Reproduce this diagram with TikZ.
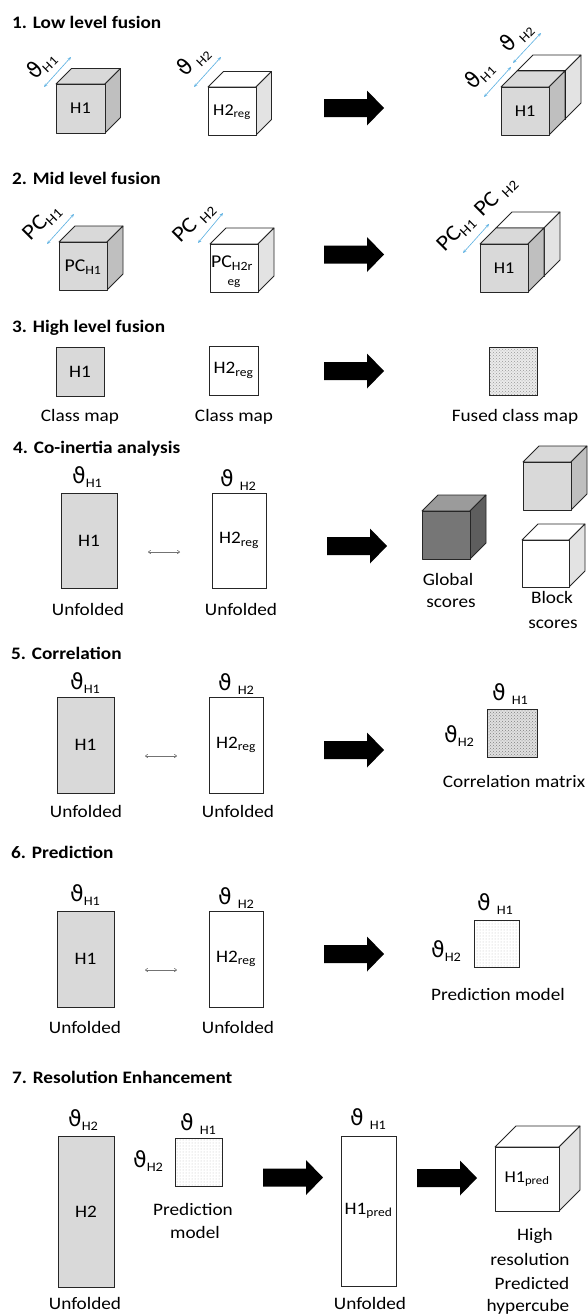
\documentclass[tikz,border=0pt]{standalone}
\usepackage{fontspec}
\setmainfont{Carlito}[FakeStretch=1.1]
\newfontfamily\djv{DejaVu Sans}
\usetikzlibrary{arrows.meta,patterns}
\definecolor{lg}{HTML}{D9D9D9}
\definecolor{mg}{HTML}{BFBFBF}
\definecolor{wg}{HTML}{E3E3E3}
\definecolor{dkf}{HTML}{767676}
\definecolor{dkt}{HTML}{9B9B9B}
\definecolor{dks}{HTML}{5E5E5E}
\definecolor{dimblue}{HTML}{5AB0E2}
\newcommand\lo[1]{\textsubscript{#1}}
\newcommand\thl[2][0pt]{{\djv\fontsize{22}{22}\selectfont ϑ}\hspace{#1}\raisebox{-4pt}{\fontsize{13}{13}\selectfont #2}}
\newcommand\pcl[2][0pt]{{\fontsize{22}{22}\selectfont PC}\hspace{#1}\raisebox{-4pt}{\fontsize{14}{14}\selectfont #2}}
\newcommand\mycube[7]{%
 \filldraw[cl, fill=#6] (#1,#2) -- ++(#4,-#4) -- ++(#3,0) -- ++(-#4,#4) -- cycle;
 \filldraw[cl, fill=#7] (#1+#3,#2) -- ++(#4,-#4) -- ++(0,#3) -- ++(-#4,#4) -- cycle;
 \filldraw[cl, fill=#5] (#1,#2) rectangle ++(#3,#3);}
\newcommand\bigarr[2]{%
 \fill[black] (#1,#2-9) -- (#1+43,#2-9) -- (#1+43,#2-17.5) -- (#1+60,#2) -- (#1+43,#2+17.5) -- (#1+43,#2+9) -- (#1,#2+9) -- cycle;}
\tikzset{
 cl/.style={draw=black!85, line width=0.8pt, line join=round},
 txt/.style={inner sep=0pt, font=\fontsize{17.5}{20}\selectfont},
 cubetxt/.style={inner sep=0pt, font=\fontsize{16.5}{18}\selectfont},
 ttl/.style={inner sep=0pt, anchor=base west, font=\fontsize{17.5}{20}\selectfont\bfseries},
 dimarr/.style={draw=dimblue, line width=0.6pt, {Stealth[length=3.5pt,width=3pt]}-{Stealth[length=3.5pt,width=3pt]}},
 smallarr/.style={draw=black!55, line width=0.6pt, {To[length=3pt,width=4pt]}-{To[length=3pt,width=4pt]}},
 box/.style={draw=black!85, line width=0.8pt, inner sep=0pt, font=\fontsize{17.5}{20}\selectfont},
}
\begin{document}
\begin{tikzpicture}[x=1pt,y=-1pt]
\useasboundingbox (0,0) rectangle (587,1314);
\fill[white] (0,0) rectangle (587,1314);

% ---------- 1. Low level fusion
\node[ttl] (t1) at (12,29) {1. Low level fusion};
\mycube{56}{84}{49}{15.5}{lg}{lg}{mg}
\node[cubetxt] (c1a) at (80.5,108.5) {H1};
\coordinate (d1a) at (44,87); \coordinate (d1b) at (71,57);
\draw[dimarr] (d1a) -- (d1b);
\node[txt, rotate=45] (l1a) at (41,65) {\thl{H1}};
\mycube{208}{87}{48}{15.5}{white}{white}{wg}
\node[cubetxt] (c1b) at (232,112) {H2\lo{reg}};
\coordinate (d1c) at (194,87); \coordinate (d1d) at (221,57);
\draw[dimarr] (d1c) -- (d1d);
\node[txt, rotate=45] (l1b) at (193,61) {\thl[5pt]{H2}};
\bigarr{324}{108}
\mycube{517}{71}{48}{16}{white}{white}{wg}
\draw[black, line width=1.6pt] (517,71) -- (565,71) -- (565,119);
\mycube{501}{87}{48}{16}{lg}{lg}{mg}
\node[cubetxt] (c1c) at (525,111) {H1};
\coordinate (d1e) at (484,97); \coordinate (d1f) at (511,67);
\draw[dimarr] (d1e) -- (d1f);
\coordinate (d1g) at (513,63); \coordinate (d1h) at (541,33);
\draw[dimarr] (d1g) -- (d1h);
\node[txt, rotate=45] (l1c) at (479,75) {\thl{H1}};
\node[txt, rotate=45] (l1d) at (516,37) {\thl[5pt]{H2}};

% ---------- 2. Mid level fusion
\node[ttl] (t2) at (12,184) {2. Mid level fusion};
\mycube{59}{242}{48}{16}{lg}{lg}{mg}
\node[cubetxt, font=\fontsize{18}{20}\selectfont] (c2a) at (83,267) {PC\lo{H1}};
\coordinate (d2a) at (47,244); \coordinate (d2b) at (74,214);
\draw[dimarr] (d2a) -- (d2b);
\node[txt, rotate=45] (l2a) at (42,223) {\pcl{H1}};
\mycube{210}{244}{48}{16}{white}{white}{wg}
\node[cubetxt, font=\fontsize{18}{20}\selectfont] (c2b) at (232,263) {PC\lo{H2r}};
\node[inner sep=0pt, font=\fontsize{12}{12}\selectfont] (c2c) at (234,284) {eg};
\coordinate (d2c) at (198,243); \coordinate (d2d) at (223,213);
\draw[dimarr] (d2c) -- (d2d);
\node[txt, rotate=45] (l2b) at (194,223) {\pcl[6pt]{H2}};
\bigarr{324}{254.5}
\mycube{496}{228}{48}{16}{white}{white}{wg}
\mycube{480}{244}{48}{16}{lg}{lg}{mg}
\node[cubetxt] (c2d) at (504,268) {H1};
\coordinate (d2e) at (463,253); \coordinate (d2f) at (489,224);
\draw[dimarr] (d2e) -- (d2f);
\node[txt, rotate=45] (l2c) at (456,234) {\pcl{H1}};
\node[txt, rotate=45] (l2d) at (496,197) {\pcl[6pt]{H2}};

% ---------- 3. High level fusion
\node[ttl] (t3) at (12,332) {3. High level fusion};
\node[box, fill=lg, minimum width=48pt, minimum height=49pt] (s3a) at (80,371.5) {H1};
\node[box, fill=white, minimum width=49pt, minimum height=49pt] (s3b) at (233.5,370.5) {H2\lo{reg}};
\bigarr{324}{371}
\node[box, preaction={fill=black!8}, pattern=crosshatch dots, pattern color=black!40, minimum width=48pt, minimum height=48pt] (s3c) at (513,371) {};
\node[txt, anchor=base] (cm1) at (80,421) {Class map};
\node[txt, anchor=base] (cm2) at (234,421) {Class map};
\node[txt, anchor=base] (cm3) at (515,421) {Fused class map};

% ---------- 4. Co-inertia analysis
\node[ttl] (t4) at (13,453) {4. Co-inertia analysis};
\node[txt, anchor=base west] (th4a) at (72,483) {\thl{H1}};
\node[txt, anchor=base west] (th4b) at (220,486) {\thl[6pt]{H2}};
\node[box, fill=lg, minimum width=56pt, minimum height=95pt] (r4a) at (89,540.5) {H1};
\node[box, fill=white, minimum width=54pt, minimum height=95pt] (r4b) at (239,540.5) {H2\lo{reg}};
\coordinate (a4a) at (148,552); \coordinate (a4b) at (180,552);
\draw[smallarr] (a4a) -- (a4b);
\node[txt, anchor=base] (u4a) at (88,615) {Unfolded};
\node[txt, anchor=base] (u4b) at (241,615) {Unfolded};
\bigarr{327}{546}
\mycube{422}{511}{48}{16}{dkf}{dkt}{dks}
\mycube{523}{462}{48}{16}{lg}{lg}{mg}
\mycube{522}{540}{47}{16}{white}{white}{wg}
\node[txt, anchor=base] (g4a) at (448,585) {Global};
\node[txt, anchor=base] (g4b) at (451,607) {scores};
\node[txt, anchor=base] (b4a) at (552,603) {Block};
\node[txt, anchor=base] (b4b) at (553,628) {scores};

% ---------- 5. Correlation
\node[ttl] (t5) at (11,659) {5. Correlation};
\node[txt, anchor=base west] (th5a) at (70,689) {\thl{H1}};
\node[txt, anchor=base west] (th5b) at (218,690) {\thl[6pt]{H2}};
\node[box, fill=lg, minimum width=57pt, minimum height=96pt] (r5a) at (85.5,745) {H1};
\node[box, fill=white, minimum width=54pt, minimum height=96pt] (r5b) at (236,745) {H2\lo{reg}};
\coordinate (a5a) at (145,756); \coordinate (a5b) at (177,756);
\draw[smallarr] (a5a) -- (a5b);
\node[txt, anchor=base] (u5a) at (86,817) {Unfolded};
\node[txt, anchor=base] (u5b) at (238,817) {Unfolded};
\bigarr{324}{750}
\node[box, preaction={fill=black!12}, pattern=crosshatch dots, pattern color=black!50, minimum width=50pt, minimum height=48pt] (s5) at (512,733) {};
\node[txt, anchor=base west] (th5c) at (492,700) {\thl[6pt]{H1}};
\node[txt, anchor=base west] (th5d) at (444,742) {\thl{H2}};
\node[txt, anchor=base] (cmx) at (514,787) {Correlation matrix};

% ---------- 6. Prediction
\node[ttl] (t6) at (11,858) {6. Prediction};
\node[txt, anchor=base west] (th6a) at (70,901) {\thl{H1}};
\node[txt, anchor=base west] (th6b) at (218,904) {\thl[6pt]{H2}};
\node[box, fill=lg, minimum width=57pt, minimum height=96pt] (r6a) at (85.5,959) {H1};
\node[box, fill=white, minimum width=54pt, minimum height=96pt] (r6b) at (236,959) {H2\lo{reg}};
\coordinate (a6a) at (145,970); \coordinate (a6b) at (177,970);
\draw[smallarr] (a6a) -- (a6b);
\node[txt, anchor=base] (u6a) at (85,1033) {Unfolded};
\node[txt, anchor=base] (u6b) at (238,1033) {Unfolded};
\bigarr{324}{954}
\node[box, pattern=dots, pattern color=black!25, minimum width=45pt, minimum height=47pt] (s6) at (496.5,943.5) {};
\node[txt, anchor=base west] (th6c) at (477,910) {\thl[6pt]{H1}};
\node[txt, anchor=base west] (th6d) at (431,957) {\thl{H2}};
\node[txt, anchor=base] (pm6) at (498,1000) {Prediction model};

% ---------- 7. Resolution Enhancement
\node[ttl] (t7) at (12,1083) {7. Resolution Enhancement};
\node[txt, anchor=base west] (th7a) at (68,1126) {\thl{H2}};
\node[box, fill=lg, minimum width=56pt, minimum height=151pt] (r7a) at (86,1211.5) {H2};
\node[txt, anchor=base] (u7a) at (85,1309) {Unfolded};
\node[box, pattern=dots, pattern color=black!25, minimum width=47pt, minimum height=48pt] (s7) at (198.5,1162) {};
\node[txt, anchor=base west] (th7b) at (180,1130) {\thl[6pt]{H1}};
\node[txt, anchor=base west] (th7c) at (133,1167) {\thl{H2}};
\node[txt, anchor=base] (pm7a) at (193,1215) {Prediction};
\node[txt, anchor=base] (pm7b) at (195,1238) {model};
\bigarr{263}{1177.5}
\node[txt, anchor=base west] (th7d) at (350,1125) {\thl[6pt]{H1}};
\node[box, fill=white, minimum width=55pt, minimum height=150pt] (r7b) at (368.5,1211) {H1\lo{pred}};
\node[txt, anchor=base] (u7b) at (370,1309) {Unfolded};
\bigarr{417}{1178}
\mycube{495}{1147}{64}{21}{white}{white}{wg}
\node[cubetxt] (c7) at (527,1179) {H1\lo{pred}};
\node[txt, anchor=base] (hr1) at (535,1240) {High};
\node[txt, anchor=base] (hr2) at (530,1265) {resolution};
\node[txt, anchor=base] (hr3) at (532,1289) {Predicted};
\node[txt, anchor=base] (hr4) at (528,1311) {hypercube};
\end{tikzpicture}
\end{document}
